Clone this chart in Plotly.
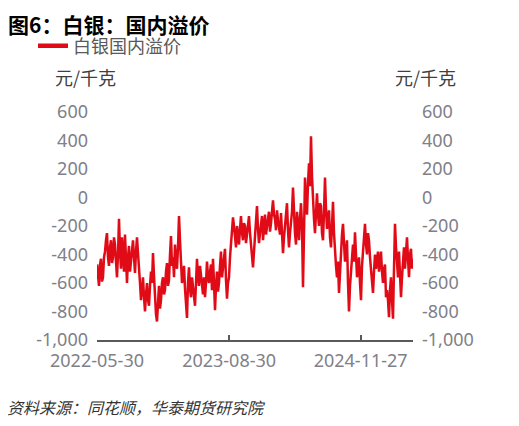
import pandas as pd
import plotly.graph_objects as go

# 白银国内溢价 (元/千克), readings about every 3-4 days from 2022-05-30 to 2025-05-27
premium = [
    -470, -540, -620, -470, -430, -590, -560, -420, -380, -300,
    -250, -420, -480, -350, -300, -460, -420, -280, -330, -450,
    -560, -400, -150, -380, -500, -280, -380, -520, -260, -450,
    -600, -420, -340, -520, -450, -350, -300, -420, -530, -380,
    -280, -390, -470, -600, -720, -640, -560, -700, -800, -680,
    -600, -720, -760, -620, -520, -600, -390, -550, -700, -820,
    -870, -700, -620, -780, -720, -600, -560, -680, -650, -520,
    -460, -620, -580, -400, -270, -480, -420, -560, -330, -450,
    -500, -350, -130, -300, -420, -600, -560, -480, -640, -720,
    -845, -600, -490, -640, -700, -560, -620, -700, -760, -600,
    -430, -560, -620, -480, -540, -640, -680, -560, -700, -600,
    -450, -560, -600, -520, -470, -650, -430, -600, -790, -620,
    -520, -660, -600, -480, -380, -560, -500, -420, -360, -580,
    -710, -600, -560, -420, -310, -220, -140, -200, -280, -350,
    -200, -260, -330, -220, -130, -250, -300, -180, -200, -320,
    -260, -180, -130, -250, -330, -400, -490, -380, -270, -180,
    -60, -220, -320, -250, -200, -130, -300, -200, -120, -260,
    -220, -150, -100, -240, -180, -90, -20, -120, -150, -230,
    -90, -160, -200, -260, -110, -300, -390, -280, -200, -120,
    -40, -230, -350, -250, -180, -100, 70, -120, -250, -330,
    -100, -180, -300, -150, -40, -200, -630, -250, 140, -30,
    -120, 100, 240, 80, 430, 150, -50, -150, -250, -100,
    30, -120, -200, -40, -60, -250, -300, -100, 140, -80,
    -220, -150, -90, -280, -350, -200, -30, -250, -400, -480,
    -560, -450, -670, -520, -380, -260, -185, -350, -450, -380,
    -300, -600, -800, -620, -500, -400, -330, -450, -245, -400,
    -560, -480, -420, -600, -720, -480, -350, -260, -185, -330,
    -400, -250, -300, -420, -500, -560, -670, -520, -400, -500,
    -450, -380, -520, -450, -380, -520, -600, -500, -470, -700,
    -650, -720, -840, -650, -560, -720, -850, -500, -185, -350,
    -480, -560, -380, -520, -700, -560, -420, -350, -500, -400,
    -280, -430, -560, -400, -360, -500, -430,
]
start_date = "2022-05-30"
end_date = "2025-05-27"
tick_dates = ["2022-05-30", "2023-08-30", "2024-11-27", end_date]
tick_text = ["2022-05-30", "2023-08-30", "2024-11-27", ""]
y_ticks = [600, 400, 200, 0, -200, -400, -600, -800, -1000]
y_tick_text = ["600", "400", "200", "0", "-200", "-400", "-600", "-800", "-1,000"]

dates = pd.date_range(start_date, end_date, periods=len(premium))

RED = "#e10a17"
TICK_GREY = "#808089"
FONT = "Noto Sans CJK SC"
NUM_FONT = "Noto Sans"

# the page body adds ~8px, so the plot area (screen x 97..413, y 112..340)
# sits at 89..405 / 104..332 inside the figure
def px_x(x):
    return (x - 97) / 316


def px_y(y):
    return (340 - y) / 228


fig = go.Figure()
fig.add_trace(go.Scatter(
    x=dates, y=premium, mode="lines", name="白银国内溢价", showlegend=False,
    line=dict(color=RED, width=2.5),
))
# legend entry drawn with a heavier stroke, like the reference
fig.add_trace(go.Scatter(
    x=[None], y=[None], mode="lines", name="白银国内溢价",
    line=dict(color=RED, width=4.5),
))
# invisible twin for the right-hand axis
fig.add_trace(go.Scatter(
    x=dates, y=premium, mode="lines", yaxis="y2", showlegend=False,
    line=dict(width=0), hoverinfo="skip", opacity=0,
))

y_common = dict(
    range=[-1000, 600], tickvals=y_ticks, ticktext=y_tick_text, showgrid=False,
    zeroline=False, showline=False, ticks="", automargin=False,
    tickfont=dict(family=NUM_FONT, size=18, color=TICK_GREY),
)

fig.update_layout(
    width=519, height=426,
    margin=dict(l=89, r=114, t=104, b=94, autoexpand=False),
    paper_bgcolor="white", plot_bgcolor="white",
    font=dict(family=FONT),
    title=dict(
        text="<b>图6：白银：国内溢价</b>", x=0, xref="container", xanchor="left",
        y=1 - 18 / 426, yref="container", yanchor="middle",
        font=dict(family=FONT, size=21, color="black"),
    ),
    showlegend=True,
    legend=dict(
        x=px_x(33), y=px_y(46), xanchor="left", yanchor="middle",
        bgcolor="rgba(0,0,0,0)",
        font=dict(family=FONT, size=18, color="#595959"), itemwidth=30,
    ),
    xaxis=dict(
        range=[start_date, end_date], tickvals=tick_dates, ticktext=tick_text,
        showgrid=False, zeroline=False, showline=True, linecolor="#595959", linewidth=1.5,
        ticks="inside", ticklen=5, tickcolor="#595959", tickwidth=1.5, tickangle=0,
        automargin=False,
        tickfont=dict(family=NUM_FONT, size=18, color=TICK_GREY), ticklabelstandoff=4,
    ),
    yaxis=dict(**y_common, side="left", ticklabelstandoff=8),
    yaxis2=dict(**y_common, side="right", overlaying="y", ticklabelstandoff=8),
    annotations=[
        dict(text="元/千克", xref="paper", yref="paper", x=px_x(53), y=px_y(77),
             xanchor="left", yanchor="middle", showarrow=False,
             font=dict(family=FONT, size=18, color="#404040")),
        dict(text="元/千克", xref="paper", yref="paper", x=px_x(393), y=px_y(77),
             xanchor="left", yanchor="middle", showarrow=False,
             font=dict(family=FONT, size=18, color="#404040")),
        dict(text="<i>资料来源：同花顺，华泰期货研究院</i>", xref="paper", yref="paper",
             x=px_x(5), y=px_y(407), xanchor="left", yanchor="middle", showarrow=False,
             font=dict(family=FONT, size=16, color="#333333")),
    ],
)

fig.write_html("out.html")
